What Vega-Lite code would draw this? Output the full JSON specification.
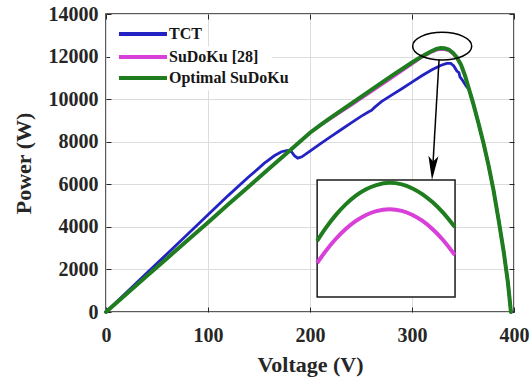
{
  "$schema": "https://vega.github.io/schema/vega-lite/v6.json",
  "width": 408,
  "height": 298,
  "autosize": {"type": "none"},
  "padding": {"left": 106, "top": 14, "right": 16, "bottom": 72},
  "background": "white",
  "config": {
    "view": {"stroke": "#262626", "strokeWidth": 1.5},
    "axis": {
      "labelFont": "Liberation Serif", "labelFontWeight": "bold", "labelFontSize": 20, "labelColor": "#262626",
      "titleFont": "Liberation Serif", "titleFontWeight": "bold", "titleFontSize": 22, "titleColor": "#262626",
      "gridColor": "#dcdcdc", "gridWidth": 1, "tickColor": "#262626", "tickSize": -5, "tickWidth": 1, "domain": false
    }
  },
  "datasets": {
    "curves": [
      {"series": "TCT", "V": 0, "P": 0}, {"series": "TCT", "V": 20, "P": 910}, {"series": "TCT", "V": 40, "P": 1830}, {"series": "TCT", "V": 60, "P": 2740}, {"series": "TCT", "V": 80, "P": 3650}, {"series": "TCT", "V": 100, "P": 4570}, {"series": "TCT", "V": 120, "P": 5480}, {"series": "TCT", "V": 140, "P": 6350}, {"series": "TCT", "V": 155, "P": 6980}, {"series": "TCT", "V": 165, "P": 7340}, {"series": "TCT", "V": 172, "P": 7530}, {"series": "TCT", "V": 178, "P": 7590}, {"series": "TCT", "V": 182, "P": 7520}, {"series": "TCT", "V": 185, "P": 7330}, {"series": "TCT", "V": 188, "P": 7230}, {"series": "TCT", "V": 192, "P": 7290}, {"series": "TCT", "V": 200, "P": 7560}, {"series": "TCT", "V": 210, "P": 7900}, {"series": "TCT", "V": 220, "P": 8230}, {"series": "TCT", "V": 230, "P": 8550}, {"series": "TCT", "V": 240, "P": 8870}, {"series": "TCT", "V": 250, "P": 9190}, {"series": "TCT", "V": 258, "P": 9420}, {"series": "TCT", "V": 260, "P": 9460}, {"series": "TCT", "V": 263, "P": 9600}, {"series": "TCT", "V": 270, "P": 9880}, {"series": "TCT", "V": 280, "P": 10190}, {"series": "TCT", "V": 290, "P": 10490}, {"series": "TCT", "V": 300, "P": 10800}, {"series": "TCT", "V": 310, "P": 11110}, {"series": "TCT", "V": 320, "P": 11390}, {"series": "TCT", "V": 328, "P": 11580}, {"series": "TCT", "V": 334, "P": 11680}, {"series": "TCT", "V": 338, "P": 11680}, {"series": "TCT", "V": 341, "P": 11560}, {"series": "TCT", "V": 344, "P": 11320}, {"series": "TCT", "V": 346, "P": 11250}, {"series": "TCT", "V": 347, "P": 11050}, {"series": "TCT", "V": 350, "P": 10850}, {"series": "TCT", "V": 353, "P": 10620}, {"series": "TCT", "V": 356, "P": 10450}, {"series": "TCT", "V": 360, "P": 9800}, {"series": "TCT", "V": 365, "P": 8900}, {"series": "TCT", "V": 370, "P": 7950}, {"series": "TCT", "V": 375, "P": 6900}, {"series": "TCT", "V": 380, "P": 5700}, {"series": "TCT", "V": 385, "P": 4300}, {"series": "TCT", "V": 390, "P": 2800}, {"series": "TCT", "V": 394, "P": 1400}, {"series": "TCT", "V": 397, "P": 0},

      {"series": "SuDoKu [28]", "V": 0, "P": 0}, {"series": "SuDoKu [28]", "V": 20, "P": 850}, {"series": "SuDoKu [28]", "V": 40, "P": 1690}, {"series": "SuDoKu [28]", "V": 60, "P": 2530}, {"series": "SuDoKu [28]", "V": 80, "P": 3370}, {"series": "SuDoKu [28]", "V": 100, "P": 4210}, {"series": "SuDoKu [28]", "V": 120, "P": 5060}, {"series": "SuDoKu [28]", "V": 140, "P": 5900}, {"series": "SuDoKu [28]", "V": 160, "P": 6740}, {"series": "SuDoKu [28]", "V": 180, "P": 7580}, {"series": "SuDoKu [28]", "V": 200, "P": 8410}, {"series": "SuDoKu [28]", "V": 210, "P": 8760}, {"series": "SuDoKu [28]", "V": 220, "P": 9080}, {"series": "SuDoKu [28]", "V": 240, "P": 9700}, {"series": "SuDoKu [28]", "V": 260, "P": 10340}, {"series": "SuDoKu [28]", "V": 280, "P": 10990}, {"series": "SuDoKu [28]", "V": 300, "P": 11650}, {"series": "SuDoKu [28]", "V": 310, "P": 11970}, {"series": "SuDoKu [28]", "V": 318, "P": 12180}, {"series": "SuDoKu [28]", "V": 324, "P": 12300}, {"series": "SuDoKu [28]", "V": 328, "P": 12340}, {"series": "SuDoKu [28]", "V": 332, "P": 12330}, {"series": "SuDoKu [28]", "V": 336, "P": 12280}, {"series": "SuDoKu [28]", "V": 340, "P": 12140}, {"series": "SuDoKu [28]", "V": 344, "P": 11930}, {"series": "SuDoKu [28]", "V": 348, "P": 11600}, {"series": "SuDoKu [28]", "V": 352, "P": 11100}, {"series": "SuDoKu [28]", "V": 356, "P": 10450}, {"series": "SuDoKu [28]", "V": 360, "P": 9800}, {"series": "SuDoKu [28]", "V": 365, "P": 8900}, {"series": "SuDoKu [28]", "V": 370, "P": 7950}, {"series": "SuDoKu [28]", "V": 375, "P": 6900}, {"series": "SuDoKu [28]", "V": 380, "P": 5700}, {"series": "SuDoKu [28]", "V": 385, "P": 4300}, {"series": "SuDoKu [28]", "V": 390, "P": 2800}, {"series": "SuDoKu [28]", "V": 394, "P": 1400}, {"series": "SuDoKu [28]", "V": 397, "P": 0},

      {"series": "Optimal SuDoKu", "V": 0, "P": 0}, {"series": "Optimal SuDoKu", "V": 20, "P": 850}, {"series": "Optimal SuDoKu", "V": 40, "P": 1690}, {"series": "Optimal SuDoKu", "V": 60, "P": 2530}, {"series": "Optimal SuDoKu", "V": 80, "P": 3370}, {"series": "Optimal SuDoKu", "V": 100, "P": 4210}, {"series": "Optimal SuDoKu", "V": 120, "P": 5060}, {"series": "Optimal SuDoKu", "V": 140, "P": 5900}, {"series": "Optimal SuDoKu", "V": 160, "P": 6740}, {"series": "Optimal SuDoKu", "V": 180, "P": 7580}, {"series": "Optimal SuDoKu", "V": 200, "P": 8420}, {"series": "Optimal SuDoKu", "V": 210, "P": 8780}, {"series": "Optimal SuDoKu", "V": 220, "P": 9120}, {"series": "Optimal SuDoKu", "V": 240, "P": 9780}, {"series": "Optimal SuDoKu", "V": 260, "P": 10440}, {"series": "Optimal SuDoKu", "V": 280, "P": 11090}, {"series": "Optimal SuDoKu", "V": 300, "P": 11720}, {"series": "Optimal SuDoKu", "V": 310, "P": 12020}, {"series": "Optimal SuDoKu", "V": 318, "P": 12230}, {"series": "Optimal SuDoKu", "V": 324, "P": 12360}, {"series": "Optimal SuDoKu", "V": 328, "P": 12400}, {"series": "Optimal SuDoKu", "V": 332, "P": 12390}, {"series": "Optimal SuDoKu", "V": 336, "P": 12330}, {"series": "Optimal SuDoKu", "V": 340, "P": 12180}, {"series": "Optimal SuDoKu", "V": 344, "P": 11960}, {"series": "Optimal SuDoKu", "V": 348, "P": 11620}, {"series": "Optimal SuDoKu", "V": 352, "P": 11100}, {"series": "Optimal SuDoKu", "V": 356, "P": 10450}, {"series": "Optimal SuDoKu", "V": 360, "P": 9800}, {"series": "Optimal SuDoKu", "V": 365, "P": 8900}, {"series": "Optimal SuDoKu", "V": 370, "P": 7950}, {"series": "Optimal SuDoKu", "V": 375, "P": 6900}, {"series": "Optimal SuDoKu", "V": 380, "P": 5700}, {"series": "Optimal SuDoKu", "V": 385, "P": 4300}, {"series": "Optimal SuDoKu", "V": 390, "P": 2800}, {"series": "Optimal SuDoKu", "V": 394, "P": 1400}, {"series": "Optimal SuDoKu", "V": 397, "P": 0}
    ],
    "inset": [
      {"series": "SuDoKu [28]", "V": 207, "P": 2302}, {"series": "SuDoKu [28]", "V": 215, "P": 2838}, {"series": "SuDoKu [28]", "V": 225, "P": 3419}, {"series": "SuDoKu [28]", "V": 235, "P": 3900}, {"series": "SuDoKu [28]", "V": 245, "P": 4280}, {"series": "SuDoKu [28]", "V": 255, "P": 4560}, {"series": "SuDoKu [28]", "V": 265, "P": 4740}, {"series": "SuDoKu [28]", "V": 278, "P": 4825}, {"series": "SuDoKu [28]", "V": 290, "P": 4750}, {"series": "SuDoKu [28]", "V": 300, "P": 4571}, {"series": "SuDoKu [28]", "V": 310, "P": 4288}, {"series": "SuDoKu [28]", "V": 320, "P": 3901}, {"series": "SuDoKu [28]", "V": 330, "P": 3408}, {"series": "SuDoKu [28]", "V": 342, "P": 2678},
      {"series": "Optimal SuDoKu", "V": 207, "P": 3336}, {"series": "Optimal SuDoKu", "V": 215, "P": 3915}, {"series": "Optimal SuDoKu", "V": 225, "P": 4539}, {"series": "Optimal SuDoKu", "V": 235, "P": 5055}, {"series": "Optimal SuDoKu", "V": 245, "P": 5464}, {"series": "Optimal SuDoKu", "V": 255, "P": 5765}, {"series": "Optimal SuDoKu", "V": 265, "P": 5959}, {"series": "Optimal SuDoKu", "V": 278, "P": 6070}, {"series": "Optimal SuDoKu", "V": 290, "P": 5998}, {"series": "Optimal SuDoKu", "V": 300, "P": 5817}, {"series": "Optimal SuDoKu", "V": 310, "P": 5540}, {"series": "Optimal SuDoKu", "V": 320, "P": 5164}, {"series": "Optimal SuDoKu", "V": 330, "P": 4693}, {"series": "Optimal SuDoKu", "V": 342, "P": 3993}
    ],
    "legendrows": [
      {"series": "TCT", "V": 12.7, "V2": 59.8, "P": 13060},
      {"series": "SuDoKu [28]", "V": 12.7, "V2": 59.8, "P": 11980},
      {"series": "Optimal SuDoKu", "V": 12.7, "V2": 59.8, "P": 10993}
    ],
    "legendbg": [{"V": 4, "V2": 163, "P": 10420, "P2": 12480}],
    "box": [{"V": 207, "V2": 342.2, "P": 705, "P2": 6201}],
    "ellipse": [{"V": 329.6, "P": 12487}],
    "arrow": [{"V": 326.5, "P": 11839, "V2": 320.0, "P2": 6500}],
    "head": [{"V": 320.3, "P": 6765}]
  },
  "resolve": {"axis": {"x": "independent", "y": "independent"}},
  "layer": [
    {
      "data": {"name": "curves"},
      "transform": [{"filter": "datum.series === 'TCT'"}],
      "mark": {"type": "line", "strokeWidth": 2.8, "strokeCap": "round"},
      "encoding": {
        "x": {"field": "V", "type": "quantitative", "scale": {"domain": [0, 400], "nice": false},
              "axis": {"orient": "bottom", "values": [0, 100, 200, 300, 400], "title": "Voltage (V)", "grid": true, "labelPadding": 18, "labelFlush": false,
                       "titleX": 204, "titleY": 52, "titleBaseline": "middle", "titleAlign": "center"}},
        "y": {"field": "P", "type": "quantitative", "scale": {"domain": [0, 14000], "nice": false},
              "axis": {"orient": "left", "values": [0, 2000, 4000, 6000, 8000, 10000, 12000, 14000], "format": "d", "title": "Power (W)", "grid": true, "labelPadding": 13, "labelFlush": false,
                       "titleX": -83, "titleY": 149, "titleAngle": 270, "titleBaseline": "middle", "titleAlign": "center"}},
        "color": {"field": "series", "type": "nominal",
                  "scale": {"domain": ["TCT", "SuDoKu [28]", "Optimal SuDoKu"], "range": ["#2323c4", "#d93fd9", "#1f7d1f"]},
                  "legend": null}
      }
    },
    {
      "data": {"name": "curves"},
      "transform": [{"filter": "datum.series === 'SuDoKu [28]'"}],
      "mark": {"type": "line", "strokeWidth": 2.8, "strokeCap": "round"},
      "encoding": {
        "x": {"field": "V", "type": "quantitative", "axis": {"orient": "top", "values": [0, 100, 200, 300, 400], "labels": false, "grid": false, "title": null}},
        "y": {"field": "P", "type": "quantitative", "axis": {"orient": "right", "values": [0, 2000, 4000, 6000, 8000, 10000, 12000, 14000], "labels": false, "grid": false, "title": null}},
        "color": {"field": "series", "type": "nominal", "legend": null}
      }
    },
    {
      "data": {"name": "curves"},
      "transform": [{"filter": "datum.series === 'Optimal SuDoKu'"}],
      "mark": {"type": "line", "strokeWidth": 4, "strokeCap": "round"},
      "encoding": {
        "x": {"field": "V", "type": "quantitative", "axis": null},
        "y": {"field": "P", "type": "quantitative", "axis": null},
        "color": {"field": "series", "type": "nominal", "legend": null}
      }
    },
    {
      "data": {"name": "legendbg"},
      "mark": {"type": "rect", "fill": "white", "strokeWidth": 0},
      "encoding": {
        "x": {"field": "V", "type": "quantitative", "axis": null},
        "x2": {"field": "V2"},
        "y": {"field": "P", "type": "quantitative", "axis": null},
        "y2": {"field": "P2"}
      }
    },
    {
      "data": {"name": "legendrows"},
      "mark": {"type": "rule", "strokeWidth": 4},
      "encoding": {
        "x": {"field": "V", "type": "quantitative", "axis": null},
        "x2": {"field": "V2"},
        "y": {"field": "P", "type": "quantitative", "axis": null},
        "color": {"field": "series", "type": "nominal", "legend": null}
      }
    },
    {
      "data": {"name": "legendrows"},
      "mark": {"type": "text", "align": "left", "baseline": "middle", "dx": 2, "font": "Liberation Serif", "fontWeight": "bold", "fontSize": 16, "color": "#161616"},
      "encoding": {
        "x": {"field": "V2", "type": "quantitative", "axis": null},
        "y": {"field": "P", "type": "quantitative", "axis": null},
        "text": {"field": "series"}
      }
    },
    {
      "data": {"name": "box"},
      "mark": {"type": "rect", "fill": "white", "stroke": "#1a1a1a", "strokeWidth": 1.5},
      "encoding": {
        "x": {"field": "V", "type": "quantitative", "axis": null},
        "x2": {"field": "V2"},
        "y": {"field": "P", "type": "quantitative", "axis": null},
        "y2": {"field": "P2"}
      }
    },
    {
      "data": {"name": "inset"},
      "mark": {"type": "line", "strokeWidth": 4, "interpolate": "monotone"},
      "encoding": {
        "x": {"field": "V", "type": "quantitative", "axis": null},
        "y": {"field": "P", "type": "quantitative", "axis": null},
        "color": {"field": "series", "type": "nominal", "legend": null}
      }
    },
    {
      "data": {"name": "ellipse"},
      "mark": {"type": "point", "shape": "M-1,0A1,0.47,0,1,0,1,0A1,0.47,0,1,0,-1,0Z", "size": 3481, "filled": false, "stroke": "#000000", "strokeWidth": 1.5, "opacity": 1},
      "encoding": {
        "x": {"field": "V", "type": "quantitative", "axis": null},
        "y": {"field": "P", "type": "quantitative", "axis": null}
      }
    },
    {
      "data": {"name": "arrow"},
      "mark": {"type": "rule", "stroke": "#000000", "strokeWidth": 1.5},
      "encoding": {
        "x": {"field": "V", "type": "quantitative", "axis": null},
        "x2": {"field": "V2"},
        "y": {"field": "P", "type": "quantitative", "axis": null},
        "y2": {"field": "P2"}
      }
    },
    {
      "data": {"name": "head"},
      "mark": {"type": "point", "shape": "M0,1L-0.42,-1L0,-0.55L0.42,-1Z", "size": 576, "filled": true, "fill": "#000000", "opacity": 1, "angle": 3.4},
      "encoding": {
        "x": {"field": "V", "type": "quantitative", "axis": null},
        "y": {"field": "P", "type": "quantitative", "axis": null}
      }
    }
  ]
}
